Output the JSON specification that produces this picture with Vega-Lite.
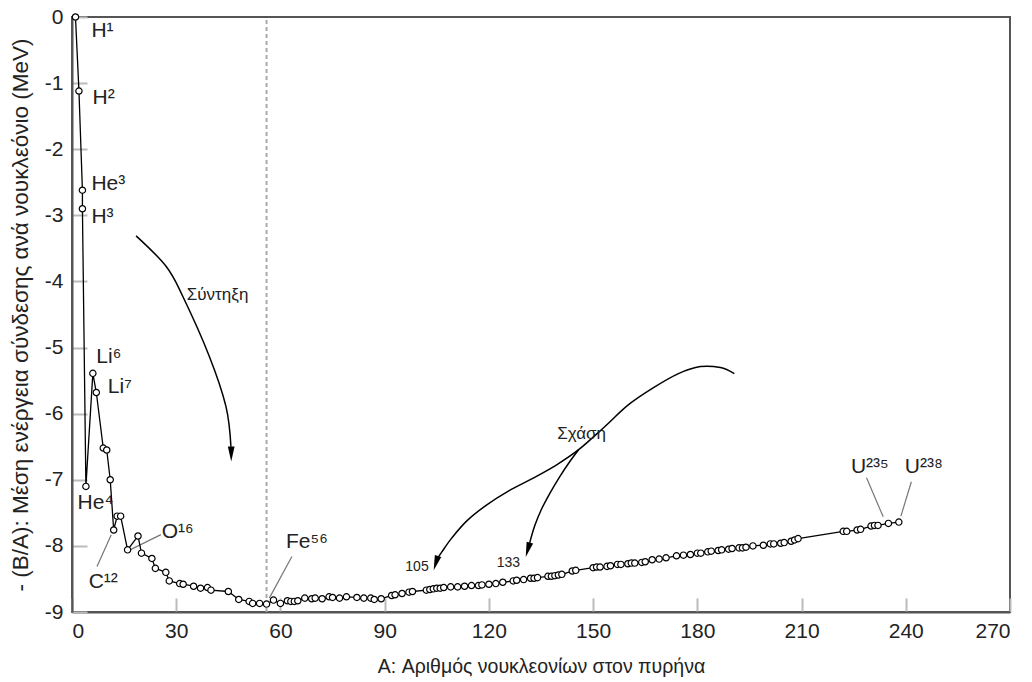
{
  "$schema": "https://vega.github.io/schema/vega-lite/v6.json",
  "width": 938,
  "height": 595,
  "autosize": {"type": "none"},
  "padding": {"left": 72, "top": 17, "right": 22, "bottom": 70},
  "background": "white",
  "config": {
    "view": {"stroke": "#555555", "strokeWidth": 2},
    "font": "Liberation Sans",
    "axis": {
      "domain": true,
      "domainColor": "#555555",
      "domainWidth": 2,
      "grid": false,
      "tickColor": "#bbbbbb",
      "tickWidth": 2,
      "labelFont": "Liberation Sans",
      "labelFontSize": 21,
      "labelColor": "#222",
      "titleFont": "Liberation Sans",
      "titleFontWeight": "normal",
      "titleColor": "#222"
    }
  },
  "datasets": {
    "nuclei": [
      {"n": 1, "A": 1, "E": 0},
      {"n": 2, "A": 2, "E": -1.12},
      {"n": 3, "A": 3, "E": -2.62},
      {"n": 4, "A": 3, "E": -2.9},
      {"n": 5, "A": 4, "E": -7.1},
      {"n": 6, "A": 6, "E": -5.39},
      {"n": 7, "A": 7, "E": -5.68},
      {"n": 8, "A": 9, "E": -6.52},
      {"n": 9, "A": 10, "E": -6.55},
      {"n": 10, "A": 11, "E": -7.0},
      {"n": 11, "A": 12, "E": -7.76},
      {"n": 12, "A": 13, "E": -7.55},
      {"n": 13, "A": 14, "E": -7.55},
      {"n": 14, "A": 16, "E": -8.06},
      {"n": 15, "A": 19, "E": -7.85},
      {"n": 16, "A": 20, "E": -8.11},
      {"n": 17, "A": 23, "E": -8.19},
      {"n": 18, "A": 24, "E": -8.34},
      {"n": 19, "A": 27, "E": -8.4},
      {"n": 20, "A": 28, "E": -8.53},
      {"n": 21, "A": 31, "E": -8.57},
      {"n": 22, "A": 32, "E": -8.58},
      {"n": 23, "A": 35, "E": -8.61},
      {"n": 24, "A": 37, "E": -8.64},
      {"n": 25, "A": 39, "E": -8.63},
      {"n": 26, "A": 40, "E": -8.67},
      {"n": 27, "A": 45, "E": -8.69},
      {"n": 28, "A": 48, "E": -8.81},
      {"n": 29, "A": 51, "E": -8.84},
      {"n": 30, "A": 52, "E": -8.87},
      {"n": 31, "A": 54, "E": -8.87},
      {"n": 32, "A": 56, "E": -8.88},
      {"n": 33, "A": 58, "E": -8.82},
      {"n": 34, "A": 60, "E": -8.87},
      {"n": 35, "A": 62, "E": -8.83},
      {"n": 36, "A": 63, "E": -8.84},
      {"n": 37, "A": 64, "E": -8.84},
      {"n": 38, "A": 65, "E": -8.83},
      {"n": 39, "A": 67, "E": -8.79},
      {"n": 40, "A": 69, "E": -8.8},
      {"n": 41, "A": 70, "E": -8.79},
      {"n": 42, "A": 72, "E": -8.8},
      {"n": 43, "A": 74, "E": -8.77},
      {"n": 44, "A": 75, "E": -8.78},
      {"n": 45, "A": 77, "E": -8.79},
      {"n": 46, "A": 79, "E": -8.77},
      {"n": 47, "A": 82, "E": -8.78},
      {"n": 48, "A": 84, "E": -8.79},
      {"n": 49, "A": 86, "E": -8.79},
      {"n": 50, "A": 87, "E": -8.81},
      {"n": 51, "A": 89, "E": -8.8},
      {"n": 52, "A": 92, "E": -8.75},
      {"n": 53, "A": 93, "E": -8.74},
      {"n": 54, "A": 95, "E": -8.72},
      {"n": 55, "A": 97, "E": -8.7},
      {"n": 56, "A": 98, "E": -8.69},
      {"n": 57, "A": 102, "E": -8.67},
      {"n": 58, "A": 103, "E": -8.66},
      {"n": 59, "A": 104, "E": -8.65},
      {"n": 60, "A": 105, "E": -8.64},
      {"n": 61, "A": 106, "E": -8.64},
      {"n": 62, "A": 107, "E": -8.63},
      {"n": 63, "A": 109, "E": -8.62},
      {"n": 64, "A": 111, "E": -8.62},
      {"n": 65, "A": 113, "E": -8.61},
      {"n": 66, "A": 115, "E": -8.6},
      {"n": 67, "A": 117, "E": -8.6},
      {"n": 68, "A": 118, "E": -8.59},
      {"n": 69, "A": 120, "E": -8.58},
      {"n": 70, "A": 122, "E": -8.57},
      {"n": 71, "A": 124, "E": -8.55},
      {"n": 72, "A": 127, "E": -8.53},
      {"n": 73, "A": 128, "E": -8.52},
      {"n": 74, "A": 130, "E": -8.51},
      {"n": 75, "A": 132, "E": -8.49},
      {"n": 76, "A": 133, "E": -8.49},
      {"n": 77, "A": 134, "E": -8.48},
      {"n": 78, "A": 137, "E": -8.46},
      {"n": 79, "A": 138, "E": -8.46},
      {"n": 80, "A": 139, "E": -8.45},
      {"n": 81, "A": 140, "E": -8.44},
      {"n": 82, "A": 141, "E": -8.43},
      {"n": 83, "A": 144, "E": -8.38},
      {"n": 84, "A": 145, "E": -8.37},
      {"n": 85, "A": 150, "E": -8.33},
      {"n": 86, "A": 151, "E": -8.32},
      {"n": 87, "A": 152, "E": -8.32},
      {"n": 88, "A": 154, "E": -8.31},
      {"n": 89, "A": 155, "E": -8.3},
      {"n": 90, "A": 157, "E": -8.28},
      {"n": 91, "A": 158, "E": -8.28},
      {"n": 92, "A": 160, "E": -8.27},
      {"n": 93, "A": 161, "E": -8.26},
      {"n": 94, "A": 162, "E": -8.26},
      {"n": 95, "A": 164, "E": -8.25},
      {"n": 96, "A": 165, "E": -8.24},
      {"n": 97, "A": 167, "E": -8.21},
      {"n": 98, "A": 169, "E": -8.2},
      {"n": 99, "A": 171, "E": -8.18},
      {"n": 100, "A": 174, "E": -8.15},
      {"n": 101, "A": 176, "E": -8.14},
      {"n": 102, "A": 178, "E": -8.13},
      {"n": 103, "A": 180, "E": -8.11},
      {"n": 104, "A": 181, "E": -8.11},
      {"n": 105, "A": 183, "E": -8.09},
      {"n": 106, "A": 184, "E": -8.08},
      {"n": 107, "A": 186, "E": -8.07},
      {"n": 108, "A": 187, "E": -8.06},
      {"n": 109, "A": 189, "E": -8.05},
      {"n": 110, "A": 190, "E": -8.04},
      {"n": 111, "A": 192, "E": -8.03},
      {"n": 112, "A": 193, "E": -8.03},
      {"n": 113, "A": 194, "E": -8.02},
      {"n": 114, "A": 196, "E": -8.0},
      {"n": 115, "A": 199, "E": -7.99},
      {"n": 116, "A": 201, "E": -7.97},
      {"n": 117, "A": 202, "E": -7.97},
      {"n": 118, "A": 204, "E": -7.96},
      {"n": 119, "A": 205, "E": -7.95},
      {"n": 120, "A": 207, "E": -7.93},
      {"n": 121, "A": 208, "E": -7.91},
      {"n": 122, "A": 209, "E": -7.89},
      {"n": 123, "A": 222, "E": -7.78},
      {"n": 124, "A": 223, "E": -7.78},
      {"n": 125, "A": 226, "E": -7.76},
      {"n": 126, "A": 227, "E": -7.75},
      {"n": 127, "A": 230, "E": -7.7},
      {"n": 128, "A": 231, "E": -7.69},
      {"n": 129, "A": 232, "E": -7.69},
      {"n": 130, "A": 235, "E": -7.66},
      {"n": 131, "A": 238, "E": -7.64}
    ],
    "fusion": [
      {"k": 1, "A": 18.45, "E": -3.31},
      {"k": 2, "A": 27.07, "E": -3.77},
      {"k": 3, "A": 31.84, "E": -4.22},
      {"k": 4, "A": 39.51, "E": -5.13},
      {"k": 5, "A": 44.31, "E": -5.89},
      {"k": 6, "A": 45.75, "E": -6.5}
    ],
    "fission": [
      {"g": "a", "k": 1, "A": 190.66, "E": -5.394},
      {"g": "a", "k": 2, "A": 186.64, "E": -5.303},
      {"g": "a", "k": 3, "A": 180.89, "E": -5.288},
      {"g": "a", "k": 4, "A": 174.57, "E": -5.394},
      {"g": "a", "k": 5, "A": 167.39, "E": -5.606},
      {"g": "a", "k": 6, "A": 160.2, "E": -5.864},
      {"g": "a", "k": 7, "A": 153.02, "E": -6.212},
      {"g": "a", "k": 8, "A": 145.83, "E": -6.545},
      {"g": "a", "k": 9, "A": 139.51, "E": -6.773},
      {"g": "a", "k": 10, "A": 132.9, "E": -6.97},
      {"g": "a", "k": 11, "A": 125.72, "E": -7.167},
      {"g": "a", "k": 12, "A": 119.4, "E": -7.379},
      {"g": "a", "k": 13, "A": 113.65, "E": -7.621},
      {"g": "a", "k": 14, "A": 109.34, "E": -7.879},
      {"g": "a", "k": 15, "A": 106.47, "E": -8.091},
      {"g": "a", "k": 16, "A": 105.32, "E": -8.182},
      {"g": "b", "k": 1, "A": 145.83, "E": -6.545},
      {"g": "b", "k": 2, "A": 143.25, "E": -6.727},
      {"g": "b", "k": 3, "A": 140.37, "E": -6.955},
      {"g": "b", "k": 4, "A": 137.79, "E": -7.182},
      {"g": "b", "k": 5, "A": 135.2, "E": -7.439},
      {"g": "b", "k": 6, "A": 133.19, "E": -7.697},
      {"g": "b", "k": 7, "A": 131.75, "E": -7.955}
    ],
    "leaders": [
      {"id": "C12", "A": 7.2, "E": -8.31},
      {"id": "C12", "A": 11.3, "E": -7.83},
      {"id": "O16", "A": 25.6, "E": -7.83},
      {"id": "O16", "A": 16.7, "E": -8.06},
      {"id": "Fe56", "A": 63.3, "E": -8.16},
      {"id": "Fe56", "A": 56.8, "E": -8.79},
      {"id": "U235", "A": 228.7, "E": -6.97},
      {"id": "U235", "A": 233.5, "E": -7.56},
      {"id": "U238", "A": 241.6, "E": -7.03},
      {"id": "U238", "A": 238.6, "E": -7.55}
    ],
    "ironline": [
      {"A": 56, "E": -9},
      {"A": 56, "E": 0}
    ],
    "isotopes": [
      {"label": "H¹", "A": 5.6, "E": -0.21},
      {"label": "H²", "A": 5.9, "E": -1.23},
      {"label": "He³", "A": 5.6, "E": -2.53},
      {"label": "H³", "A": 5.6, "E": -3.03},
      {"label": "Li⁶", "A": 7.0, "E": -5.14},
      {"label": "Li⁷", "A": 10.3, "E": -5.59},
      {"label": "He⁴", "A": 1.6, "E": -7.35},
      {"label": "C¹²", "A": 4.8, "E": -8.55},
      {"label": "O¹⁶", "A": 25.8, "E": -7.79},
      {"label": "Fe⁵⁶", "A": 61.6, "E": -7.94},
      {"label": "U²³⁵", "A": 224.2, "E": -6.8},
      {"label": "U²³⁸", "A": 239.7, "E": -6.8}
    ],
    "words": [
      {"label": "Σύντηξη", "A": 41.9, "E": -4.2},
      {"label": "Σχάση", "A": 146.7, "E": -6.3}
    ],
    "numbers": [
      {"label": "105", "A": 99.3, "E": -8.32},
      {"label": "133", "A": 125.6, "E": -8.26}
    ]
  },
  "encoding": {
    "x": {
      "field": "A",
      "type": "quantitative",
      "scale": {"domain": [0, 270], "nice": false, "zero": false},
      "axis": {
        "title": "A: Αριθμός νουκλεονίων στον πυρήνα",
        "titleFontSize": 19.5,
        "values": [0, 30, 60, 90, 120, 150, 180, 210, 240, 270],
        "tickSize": -14,
        "labelPadding": 22,
        "titlePadding": 16
      }
    },
    "y": {
      "field": "E",
      "type": "quantitative",
      "scale": {"domain": [-9, 0], "nice": false, "zero": false},
      "axis": {
        "title": "- (B/A): Μέση ενέργεια σύνδεσης ανά νουκλεόνιο (MeV)",
        "titleFontSize": 22.5,
        "values": [0, -1, -2, -3, -4, -5, -6, -7, -8, -9],
        "labelExpr": "'' + datum.value",
        "tickSize": -15,
        "labelPadding": 24,
        "titlePadding": 12
      }
    }
  },
  "layer": [
    {
      "data": {"name": "ironline"},
      "mark": {"type": "line", "color": "#aaaaaa", "strokeWidth": 2, "strokeDash": [4, 3]},
      "encoding": {"order": {"field": "E", "type": "quantitative"}}
    },
    {
      "data": {"name": "leaders"},
      "mark": {"type": "line", "color": "#777777", "strokeWidth": 1.2},
      "encoding": {"detail": {"field": "id"}}
    },
    {
      "data": {"name": "nuclei"},
      "mark": {"type": "line", "color": "black", "strokeWidth": 1.3},
      "encoding": {"order": {"field": "n", "type": "quantitative"}}
    },
    {
      "data": {"name": "nuclei"},
      "mark": {"type": "point", "shape": "circle", "filled": true, "fill": "white", "stroke": "black", "strokeWidth": 1.2, "size": 40, "opacity": 1}
    },
    {
      "data": {"name": "fusion"},
      "mark": {"type": "line", "color": "black", "strokeWidth": 1.5, "interpolate": "cardinal"},
      "encoding": {"order": {"field": "k", "type": "quantitative"}}
    },
    {
      "data": {"name": "fission"},
      "mark": {"type": "line", "color": "black", "strokeWidth": 1.5, "interpolate": "cardinal"},
      "encoding": {"order": {"field": "k", "type": "quantitative"}, "detail": {"field": "g"}}
    },
    {
      "data": {"values": [{"A": 45.83, "E": -6.61}]},
      "mark": {"type": "point", "shape": "M0,1L-0.45,-1L0.45,-1Z", "filled": true, "color": "black", "size": 225, "opacity": 1, "angle": 0}
    },
    {
      "data": {"values": [{"A": 104.74, "E": -8.26}]},
      "mark": {"type": "point", "shape": "M0,1L-0.45,-1L0.45,-1Z", "filled": true, "color": "black", "size": 225, "opacity": 1, "angle": 17}
    },
    {
      "data": {"values": [{"A": 131.2, "E": -8.06}]},
      "mark": {"type": "point", "shape": "M0,1L-0.45,-1L0.45,-1Z", "filled": true, "color": "black", "size": 225, "opacity": 1, "angle": 16}
    },
    {
      "data": {"name": "isotopes"},
      "mark": {"type": "text", "align": "left", "baseline": "middle", "fontSize": 21, "color": "#222", "font": "Liberation Sans"},
      "encoding": {"text": {"field": "label"}}
    },
    {
      "data": {"name": "words"},
      "mark": {"type": "text", "align": "center", "baseline": "middle", "fontSize": 17, "color": "#222", "font": "Liberation Sans"},
      "encoding": {"text": {"field": "label"}}
    },
    {
      "data": {"name": "numbers"},
      "mark": {"type": "text", "align": "center", "baseline": "middle", "fontSize": 14, "color": "#222", "font": "Liberation Sans"},
      "encoding": {"text": {"field": "label"}}
    }
  ]
}
